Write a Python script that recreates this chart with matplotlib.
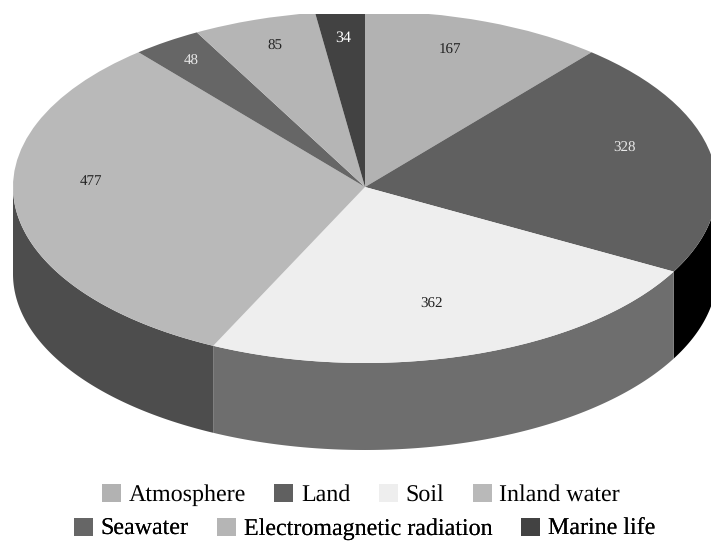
import numpy as np
import matplotlib
matplotlib.use("Agg")
import matplotlib.pyplot as plt
from matplotlib.patches import Patch

categories = ["Atmosphere", "Land", "Soil", "Inland water", "Seawater",
              "Electromagnetic radiation", "Marine life"]
values = [167, 328, 362, 477, 48, 85, 34]
colors = ["#b2b2b2", "#606060", "#eeeeee", "#b9b9b9", "#666666", "#b5b5b5", "#424242"]
wall_colors = ["#000000", "#6e6e6e", "#4d4d4d"]
label_colors = ["#222222", "#e8e8e8", "#222222", "#222222", "#e8e8e8", "#222222", "#ffffff"]
label_sizes = [10.8, 10.8, 10.8, 10.8, 10.8, 10.8, 11.8]
label_radius = [0.826, 0.772, 0.68, 0.78, 0.876, 0.853, 0.86]
label_turn = [-3.0, -6.9, 1.7, 10.6, 0.0, 0.8, 0.0]

W, H = 711, 541
CX, CY, RX, RY, DEPTH = 365, 187, 352, 176, 87
TOP = 14

plt.rcParams["font.family"] = ["Liberation Serif", "DejaVu Serif"]
plt.rcParams["text.hinting"] = "no_hinting"
plt.rcParams["text.hinting_factor"] = 1
fig = plt.figure(figsize=(W / 100, H / 100), dpi=100)
ax = fig.add_axes([0, 0, 1, 1 - TOP / H])

wedges, _ = ax.pie(values, colors=colors, startangle=90, counterclock=False, radius=1)
ax.set_aspect("auto")
ax.set_xlim(-CX / RX, (W - CX) / RX)
ax.set_ylim(-(H - CY) / RY, (CY - TOP) / RY)
ax.axis("off")
for w in wedges:
    w.set_zorder(3)
    w.set_edgecolor("none")
    w.set_clip_on(True)
    w.set_clip_path(ax.patch)

# side walls: visible lower half of the rim, split at the slice boundaries
cum = np.cumsum(values) / np.sum(values) * 360
d = DEPTH / RY
edges = [90, cum[1], cum[2], 270]
for a0, a1, col in zip(edges[:-1], edges[1:], wall_colors):
    t = np.radians(np.linspace(a0, a1, 120))
    x, y = np.sin(t), np.cos(t)
    ax.fill(np.r_[x, x[::-1]], np.r_[y, y[::-1] - d], color=col, lw=0, zorder=2)

# value labels at their slices
mids = cum - np.array(values) / np.sum(values) * 180
for v, m, r, o, c, s in zip(values, mids, label_radius, label_turn, label_colors, label_sizes):
    t = np.radians(m + o)
    ax.annotate(str(v), (r * np.sin(t), r * np.cos(t)), xytext=(0, -1.4),
                textcoords="offset points", ha="center", va="center",
                fontsize=s, color=c, zorder=5)

def row(idx, x, y):
    h = [Patch(facecolor=colors[i], edgecolor="none", label=categories[i]) for i in idx]
    leg = ax.legend(handles=h, ncol=len(idx), loc="center", frameon=False, fontsize=17.2,
                    bbox_to_anchor=(x / W, 1 - y / H), bbox_transform=fig.transFigure,
                    handlelength=0.79, handleheight=0.8,
                    handletextpad=0.32, columnspacing=1.2, borderpad=0, borderaxespad=0)
    ax.add_artist(leg)

row([0, 1, 2, 3], 361, 495)
row([4, 5, 6], 364.5, 529)

fig.savefig("out.png", dpi=100)
